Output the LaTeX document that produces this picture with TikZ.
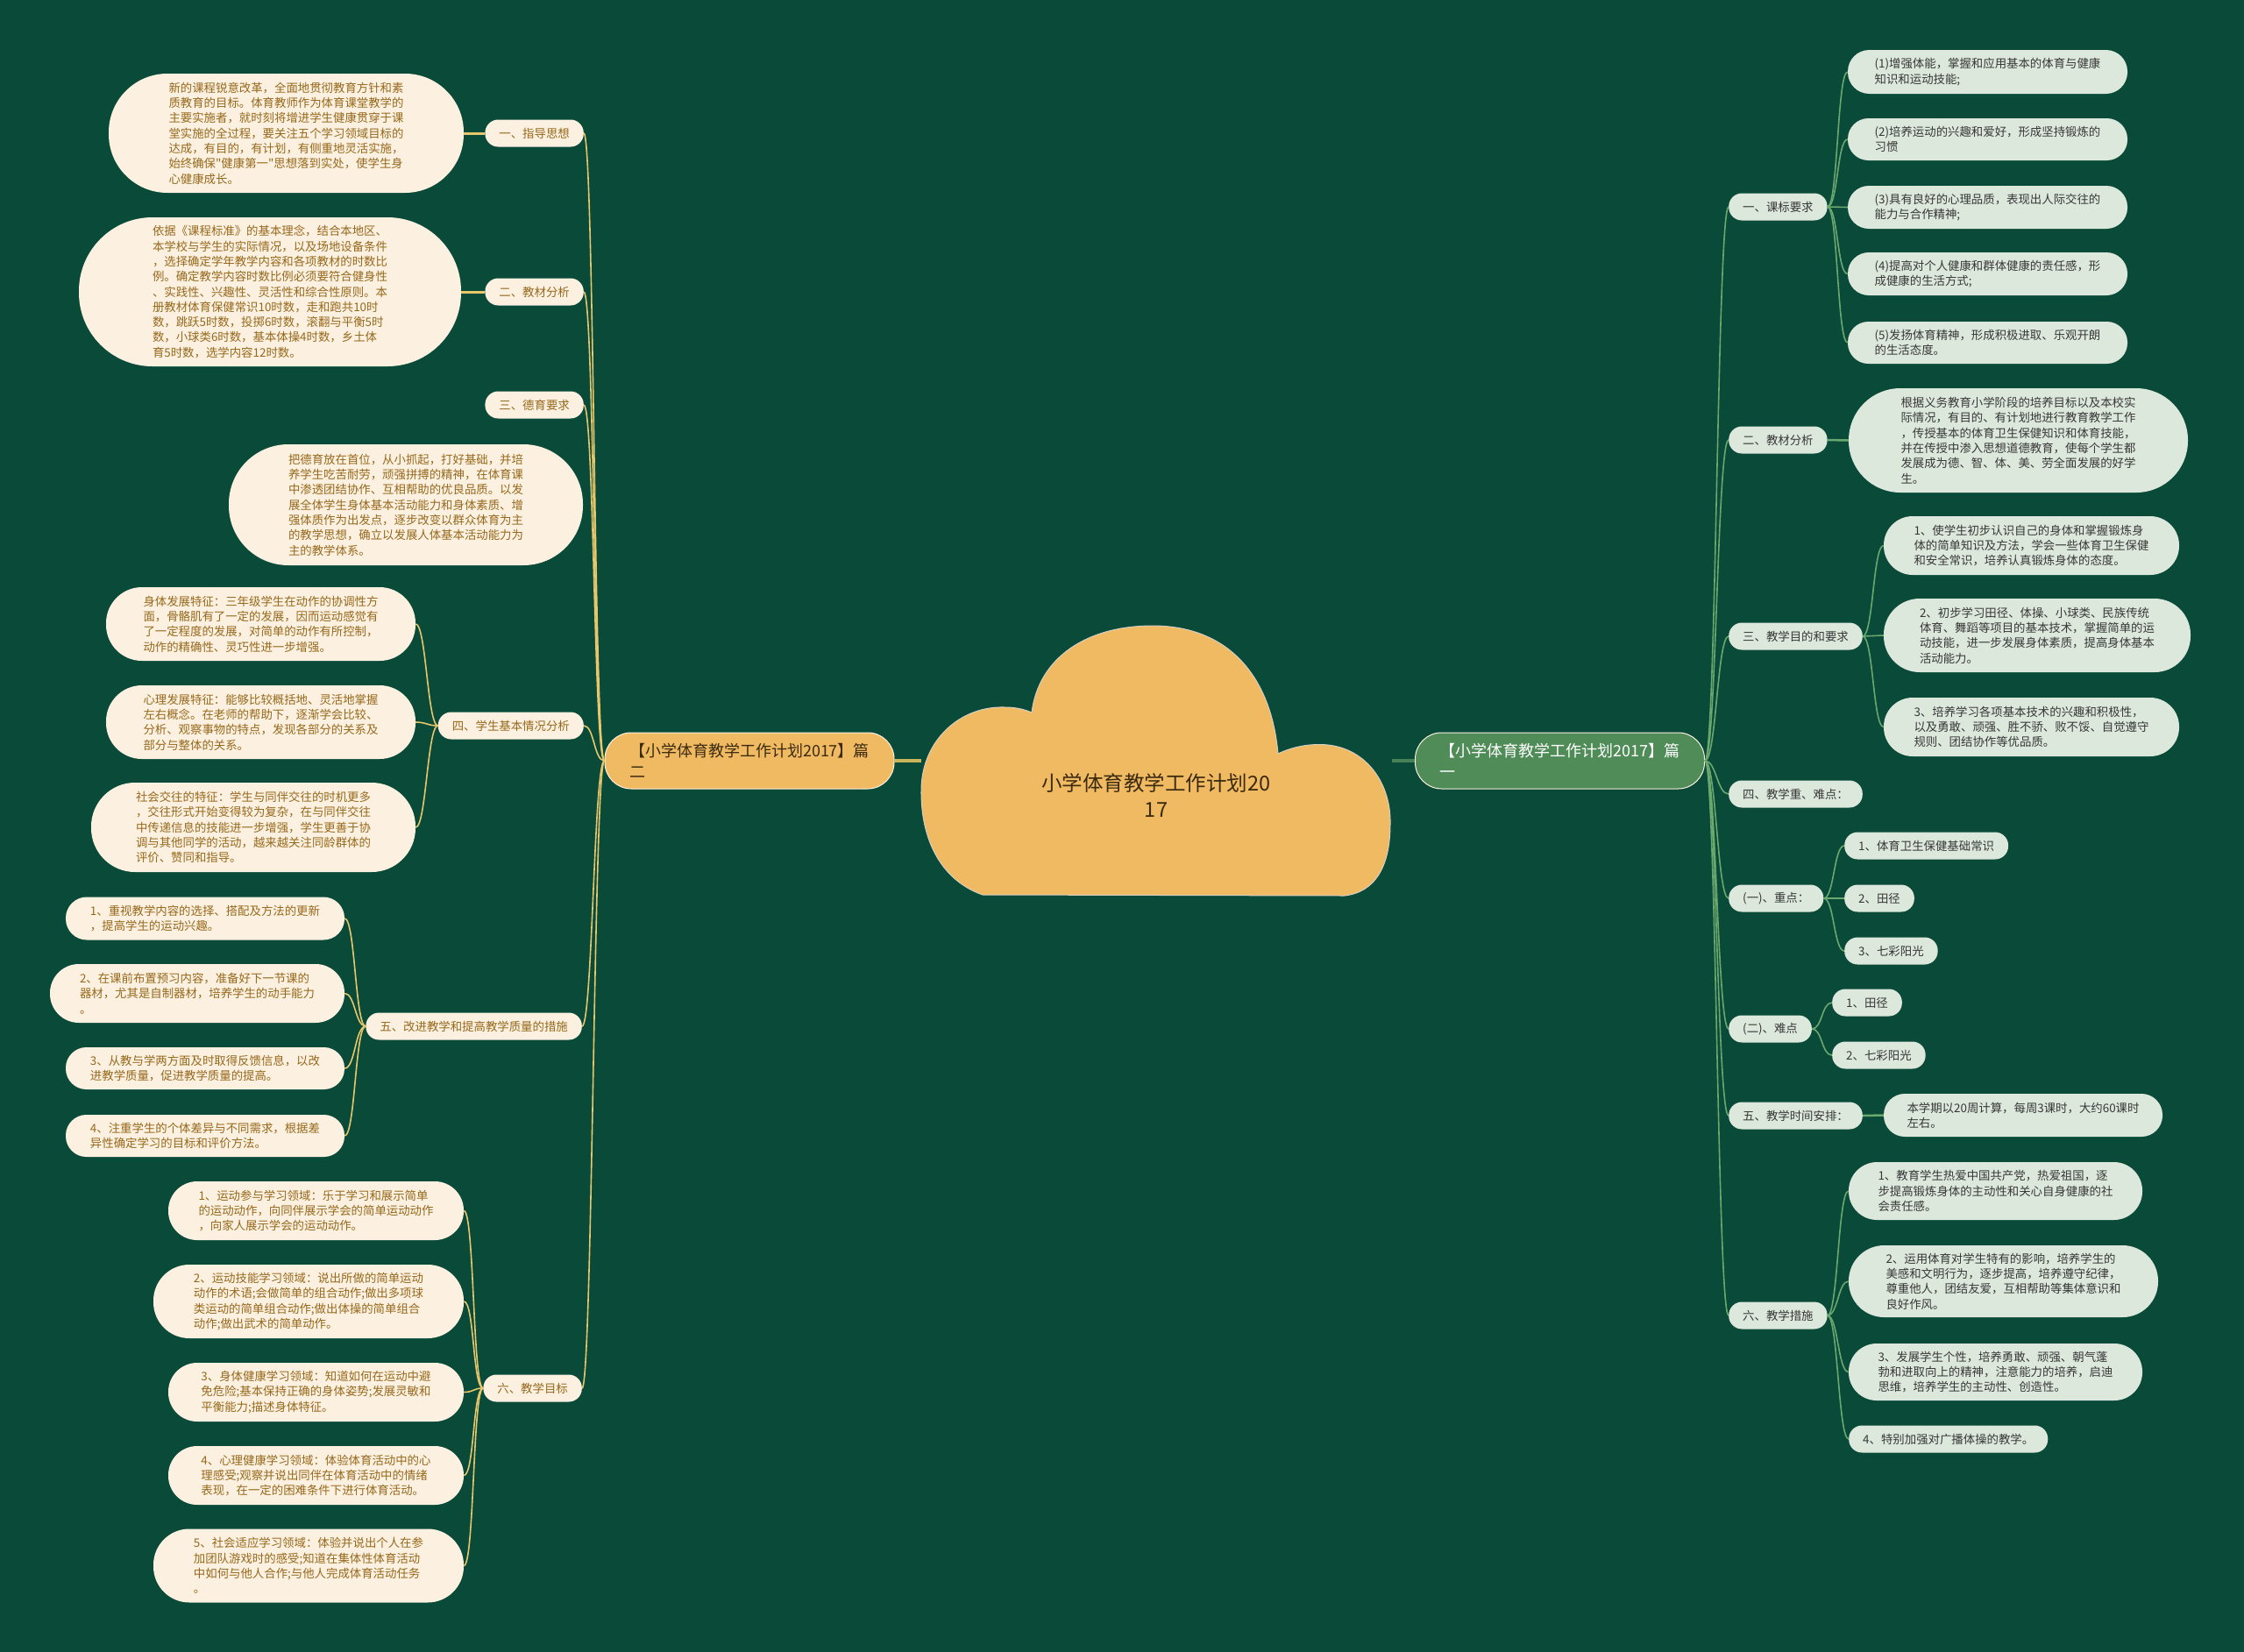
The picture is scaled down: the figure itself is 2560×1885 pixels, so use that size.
\documentclass[tikz,border=0pt]{standalone}
\usepackage{fontspec}
\setmainfont{Noto Sans CJK SC}[Ligatures=TeXOff]
\definecolor{bg}{RGB}{9,74,57}
\definecolor{cloudc}{RGB}{239,186,98}
\definecolor{cream}{RGB}{252,241,224}
\definecolor{brownt}{RGB}{150,104,28}
\definecolor{lline}{RGB}{232,198,108}
\definecolor{lmainline}{RGB}{200,180,90}
\definecolor{gnode}{RGB}{80,140,88}
\definecolor{gfill}{RGB}{221,232,220}
\definecolor{gline}{RGB}{106,168,110}
\definecolor{gmainline}{RGB}{70,130,85}
\definecolor{darkt}{RGB}{55,55,55}
\definecolor{maintext}{RGB}{60,42,15}
\newcommand{\leafsize}{\fontsize{13.4}{17.3}\selectfont}
\tikzset{
  lsec/.style={fill=cream, text=brownt, font=\leafsize, inner xsep=16pt, inner ysep=0pt, minimum height=31pt, rounded corners=15pt, anchor=east},
  lleaf/.style={fill=cream, text=brownt, font=\leafsize, align=left, inner sep=0pt},
  rsec/.style={fill=gfill, text=darkt, font=\leafsize, inner xsep=16pt, inner ysep=0pt, minimum height=31pt, rounded corners=15pt, anchor=west},
  rleaf/.style={fill=gfill, text=darkt, font=\leafsize, align=left, inner sep=0pt},
  lcon/.style={draw=lline, line width=1.6pt},
  rcon/.style={draw=gline, line width=1.6pt},
  mainnode/.style={draw=cream, line width=1pt, rounded corners=30pt, minimum width=330pt, minimum height=64pt, align=left, inner sep=0pt, font=\fontsize{18}{24}\selectfont},
}
\begin{document}
\begin{tikzpicture}[x=1pt,y=-1pt]
\useasboundingbox (0,0) rectangle (2560,1885);
\fill[bg] (0,0) rectangle (2560,1885);

% cloud
\filldraw[fill=cloudc, draw=cream!70!gray, line width=1pt]
 (1121,1021) .. controls (1075,1005) and (1050,960) .. (1051,900)
 .. controls (1052,845) and (1095,805) .. (1147,807)
 .. controls (1160,807) and (1170,810) .. (1177,813)
 .. controls (1185,750) and (1240,714) .. (1315,714)
 .. controls (1400,714) and (1450,770) .. (1458,860)
 .. controls (1475,852) and (1495,848) .. (1515,850)
 .. controls (1560,855) and (1587,895) .. (1586,940)
 .. controls (1586,990) and (1568,1018) .. (1534,1022)
 -- cycle;
\node[font=\fontsize{23.5}{30}\selectfont, align=center, text=maintext] (center) at (1319,908) {小学体育教学工作计划20\\17};
\coordinate (cL) at (1051,868);
\coordinate (cR) at (1588,868);

% main branches
\node[mainnode, fill=cloudc, text=maintext] (Lmain) at (855,868) {【小学体育教学工作计划2017】篇\\二};
\node[mainnode, fill=gnode, text=white] (Rmain) at (1779.5,868) {【小学体育教学工作计划2017】篇\\一};
\draw[draw=lmainline, line width=4pt] (Lmain.east) -- (cL);
\draw[draw=gmainline, line width=4pt] (cR) -- (Rmain.west);

% left sections
\node[lsec] (S1) at (666,152) {一、指导思想};
\node[lsec] (S2) at (666,333) {二、教材分析};
\node[lsec] (S3) at (666,462) {三、德育要求};
\node[lsec] (S4) at (666,828) {四、学生基本情况分析};
\node[lsec] (S5) at (664,1171) {五、改进教学和提高教学质量的措施};
\node[lsec] (S6) at (664,1584) {六、教学目标};

% left leaves
\node[lleaf, minimum width=405pt, minimum height=136pt, rounded corners=67pt] (L1a) at (326.5,152) {新的课程锐意改革，全面地贯彻教育方针和素\\质教育的目标。体育教师作为体育课堂教学的\\主要实施者，就时刻将增进学生健康贯穿于课\\堂实施的全过程，要关注五个学习领域目标的\\达成，有目的，有计划，有侧重地灵活实施，\\始终确保"健康第一"思想落到实处，使学生身\\心健康成长。};
\node[lleaf, minimum width=436pt, minimum height=170pt, rounded corners=84pt] (L2a) at (308,333) {依据《课程标准》的基本理念，结合本地区、\\本学校与学生的实际情况，以及场地设备条件\\，选择确定学年教学内容和各项教材的时数比\\例。确定教学内容时数比例必须要符合健身性\\、实践性、兴趣性、灵活性和综合性原则。本\\册教材体育保健常识10时数，走和跑共10时\\数，跳跃5时数，投掷6时数，滚翻与平衡5时\\数，小球类6时数，基本体操4时数，乡土体\\育5时数，选学内容12时数。};
\node[lleaf, minimum width=404pt, minimum height=138pt, rounded corners=68pt] (L3a) at (463,576) {把德育放在首位，从小抓起，打好基础，并培\\养学生吃苦耐劳，顽强拼搏的精神，在体育课\\中渗透团结协作、互相帮助的优良品质。以发\\展全体学生身体基本活动能力和身体素质、增\\强体质作为出发点，逐步改变以群众体育为主\\的教学思想，确立以发展人体基本活动能力为\\主的教学体系。};
\node[lleaf, minimum width=353pt, minimum height=84pt, rounded corners=41pt] (L4a) at (297.5,712) {身体发展特征：三年级学生在动作的协调性方\\面，骨骼肌有了一定的发展，因而运动感觉有\\了一定程度的发展，对简单的动作有所控制，\\动作的精确性、灵巧性进一步增强。};
\node[lleaf, minimum width=353pt, minimum height=84pt, rounded corners=41pt] (L4b) at (297.5,824) {心理发展特征：能够比较概括地、灵活地掌握\\左右概念。在老师的帮助下，逐渐学会比较、\\分析、观察事物的特点，发现各部分的关系及\\部分与整体的关系。};
\node[lleaf, minimum width=370pt, minimum height=102pt, rounded corners=50pt] (L4c) at (289,944) {社会交往的特征：学生与同伴交往的时机更多\\，交往形式开始变得较为复杂，在与同伴交往\\中传递信息的技能进一步增强，学生更善于协\\调与其他同学的活动，越来越关注同龄群体的\\评价、赞同和指导。};
\node[lleaf, minimum width=318pt, minimum height=49pt, rounded corners=24pt] (L5a) at (234,1048) {1、重视教学内容的选择、搭配及方法的更新\\，提高学生的运动兴趣。};
\node[lleaf, minimum width=336pt, minimum height=67pt, rounded corners=33pt] (L5b) at (225,1133.5) {2、在课前布置预习内容，准备好下一节课的\\器材，尤其是自制器材，培养学生的动手能力\\。};
\node[lleaf, minimum width=318pt, minimum height=48pt, rounded corners=23.5pt] (L5c) at (234,1219) {3、从教与学两方面及时取得反馈信息，以改\\进教学质量，促进教学质量的提高。};
\node[lleaf, minimum width=318pt, minimum height=48pt, rounded corners=23.5pt] (L5d) at (234,1296) {4、注重学生的个体差异与不同需求，根据差\\异性确定学习的目标和评价方法。};
\node[lleaf, minimum width=337pt, minimum height=67pt, rounded corners=33pt] (L6a) at (360.5,1381.5) {1、运动参与学习领域：乐于学习和展示简单\\的运动动作，向同伴展示学会的简单运动动作\\，向家人展示学会的运动动作。};
\node[lleaf, minimum width=354pt, minimum height=84pt, rounded corners=41pt] (L6b) at (352,1485) {2、运动技能学习领域：说出所做的简单运动\\动作的术语;会做简单的组合动作;做出多项球\\类运动的简单组合动作;做出体操的简单组合\\动作;做出武术的简单动作。};
\node[lleaf, minimum width=337pt, minimum height=67pt, rounded corners=33pt] (L6c) at (360.5,1588.5) {3、身体健康学习领域：知道如何在运动中避\\免危险;基本保持正确的身体姿势;发展灵敏和\\平衡能力;描述身体特征。};
\node[lleaf, minimum width=337pt, minimum height=67pt, rounded corners=33pt] (L6d) at (360.5,1683.5) {4、心理健康学习领域：体验体育活动中的心\\理感受;观察并说出同伴在体育活动中的情绪\\表现，在一定的困难条件下进行体育活动。};
\node[lleaf, minimum width=354pt, minimum height=84pt, rounded corners=41pt] (L6e) at (352,1786.5) {5、社会适应学习领域：体验并说出个人在参\\加团队游戏时的感受;知道在集体性体育活动\\中如何与他人合作;与他人完成体育活动任务\\。};

% left connectors
\foreach \s in {S1,S2,S3,S4,S5,S6}
  \draw[lcon] (Lmain.west) .. controls +(-12,0) and +(12,0) .. (\s.east);
\draw[lcon, line width=3pt] (S1.west) -- (L1a.east);
\draw[lcon, line width=3pt] (S2.west) -- (L2a.east);
\foreach \l in {L4a,L4b,L4c}
  \draw[lcon] (S4.west) .. controls +(-12,0) and +(12,0) .. (\l.east);
\foreach \l in {L5a,L5b,L5c,L5d}
  \draw[lcon] (S5.west) .. controls +(-12,0) and +(12,0) .. (\l.east);
\foreach \l in {L6a,L6b,L6c,L6d,L6e}
  \draw[lcon] (S6.west) .. controls +(-12,0) and +(12,0) .. (\l.east);

% right sections
\node[rsec] (R1) at (1972,236) {一、课标要求};
\node[rsec] (R2) at (1972,502) {二、教材分析};
\node[rsec] (R3) at (1972,726) {三、教学目的和要求};
\node[rsec] (R4) at (1972,906) {四、教学重、难点：};
\node[rsec] (R5) at (1972,1025) {(一)、重点：};
\node[rsec] (R6) at (1972,1174) {(二)、难点};
\node[rsec] (R7) at (1972,1273) {五、教学时间安排：};
\node[rsec] (R8) at (1972,1501) {六、教学措施};

% right leaves
\node[rleaf, minimum width=319pt, minimum height=50pt, rounded corners=24.5pt] (R1a) at (2267.5,82) {(1)增强体能，掌握和应用基本的体育与健康\\知识和运动技能;};
\node[rleaf, minimum width=319pt, minimum height=48pt, rounded corners=23.5pt] (R1b) at (2267.5,159) {(2)培养运动的兴趣和爱好，形成坚持锻炼的\\习惯};
\node[rleaf, minimum width=319pt, minimum height=49pt, rounded corners=24pt] (R1c) at (2267.5,236.5) {(3)具有良好的心理品质，表现出人际交往的\\能力与合作精神;};
\node[rleaf, minimum width=319pt, minimum height=49pt, rounded corners=24pt] (R1d) at (2267.5,312.5) {(4)提高对个人健康和群体健康的责任感，形\\成健康的生活方式;};
\node[rleaf, minimum width=319pt, minimum height=48pt, rounded corners=23.5pt] (R1e) at (2267.5,391) {(5)发扬体育精神，形成积极进取、乐观开朗\\的生活态度。};
\node[rleaf, minimum width=387pt, minimum height=119pt, rounded corners=59pt] (R2a) at (2302.5,502.5) {根据义务教育小学阶段的培养目标以及本校实\\际情况，有目的、有计划地进行教育教学工作\\，传授基本的体育卫生保健知识和体育技能，\\并在传授中渗入思想道德教育，使每个学生都\\发展成为德、智、体、美、劳全面发展的好学\\生。};
\node[rleaf, minimum width=337pt, minimum height=67pt, rounded corners=33pt] (R3a) at (2317.5,622.5) {1、使学生初步认识自己的身体和掌握锻炼身\\体的简单知识及方法，学会一些体育卫生保健\\和安全常识，培养认真锻炼身体的态度。};
\node[rleaf, minimum width=350pt, minimum height=84pt, rounded corners=41pt] (R3b) at (2324,725) {2、初步学习田径、体操、小球类、民族传统\\体育、舞蹈等项目的基本技术，掌握简单的运\\动技能，进一步发展身体素质，提高身体基本\\活动能力。};
\node[rleaf, minimum width=337pt, minimum height=67pt, rounded corners=33pt] (R3c) at (2317.5,829.5) {3、培养学习各项基本技术的兴趣和积极性，\\以及勇敢、顽强、胜不骄、败不馁、自觉遵守\\规则、团结协作等优品质。};
\node[rsec] (R5a) at (2104,965) {1、体育卫生保健基础常识};
\node[rsec] (R5b) at (2104,1025) {2、田径};
\node[rsec] (R5c) at (2104,1085) {3、七彩阳光};
\node[rsec] (R6a) at (2090,1144) {1、田径};
\node[rsec] (R6b) at (2090,1204) {2、七彩阳光};
\node[rleaf, minimum width=318pt, minimum height=49pt, rounded corners=24pt] (R7a) at (2308,1272.5) {本学期以20周计算，每周3课时，大约60课时\\左右。};
\node[rleaf, minimum width=335pt, minimum height=66pt, rounded corners=32.5pt] (R8a) at (2276.5,1359) {1、教育学生热爱中国共产党，热爱祖国，逐\\步提高锻炼身体的主动性和关心自身健康的社\\会责任感。};
\node[rleaf, minimum width=353pt, minimum height=82pt, rounded corners=40.5pt] (R8b) at (2285.5,1462) {2、运用体育对学生特有的影响，培养学生的\\美感和文明行为，逐步提高，培养遵守纪律，\\尊重他人，团结友爱，互相帮助等集体意识和\\良好作风。};
\node[rleaf, minimum width=335pt, minimum height=65pt, rounded corners=32pt] (R8c) at (2276.5,1565.5) {3、发展学生个性，培养勇敢、顽强、朝气蓬\\勃和进取向上的精神，注意能力的培养，启迪\\思维，培养学生的主动性、创造性。};
\node[rsec] (R8d) at (2109,1642) {4、特别加强对广播体操的教学。};

% right connectors
\foreach \s in {R1,R2,R3,R4,R5,R6,R7,R8}
  \draw[rcon] (Rmain.east) .. controls +(13,0) and +(-13,0) .. (\s.west);
\foreach \l in {R1a,R1b,R1c,R1d,R1e}
  \draw[rcon] (R1.east) .. controls +(12,0) and +(-12,0) .. (\l.west);
\draw[rcon, line width=2.5pt] (R2.east) -- (R2a.west);
\foreach \l in {R3a,R3b,R3c}
  \draw[rcon] (R3.east) .. controls +(12,0) and +(-12,0) .. (\l.west);
\foreach \l in {R5a,R5b,R5c}
  \draw[rcon] (R5.east) .. controls +(12,0) and +(-12,0) .. (\l.west);
\foreach \l in {R6a,R6b}
  \draw[rcon] (R6.east) .. controls +(12,0) and +(-12,0) .. (\l.west);
\draw[rcon, line width=2.5pt] (R7.east) -- (R7a.west);
\foreach \l in {R8a,R8b,R8c,R8d}
  \draw[rcon] (R8.east) .. controls +(12,0) and +(-12,0) .. (\l.west);
\end{tikzpicture}
\end{document}
